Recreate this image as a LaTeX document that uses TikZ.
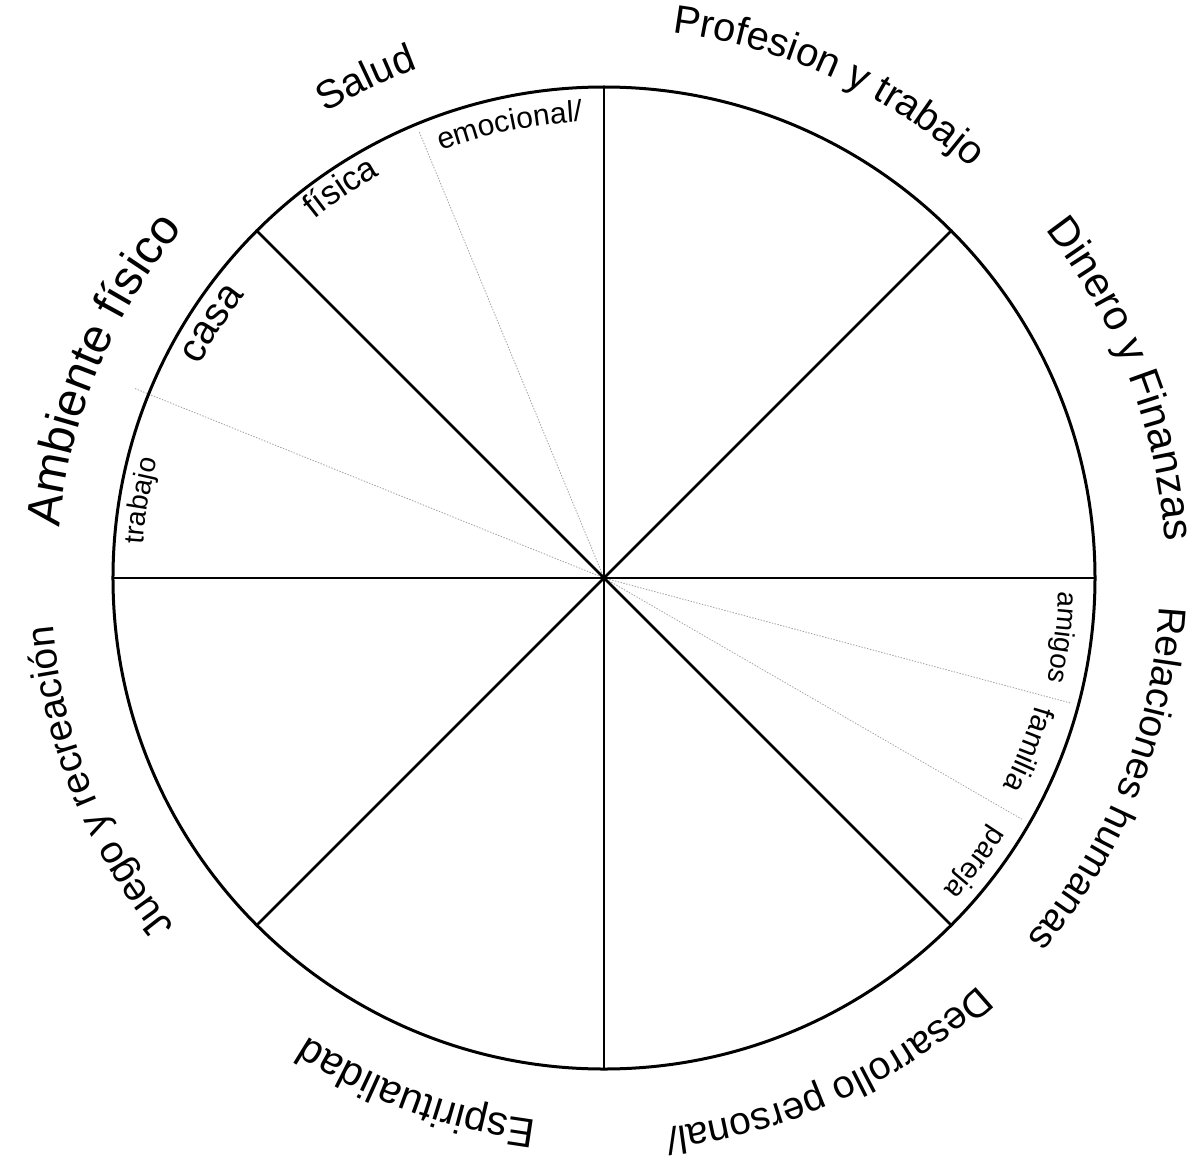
\documentclass[tikz,border=0pt]{standalone}
\usepackage{fontspec}
\setmainfont{Liberation Sans}
\usetikzlibrary{decorations.text}

\tikzset{
  rim/.style={line width=3pt},
  spoke/.style={line width=2.8pt},
  subline/.style={line width=0.9pt,gray!70,dotted},
}
% curved label: centre angle, baseline radius, font size, text
\newcommand{\wheellabel}[4]{%
\path[decorate,decoration={text along path,text align=center,
  text={|\fontsize{#3}{#3}\selectfont|#4}}]
  ({#1+30}:#2) arc[start angle={#1+30},end angle={#1-30},radius=#2];}

\begin{document}
\begin{tikzpicture}[line cap=round,line join=round,x=1pt,y=1pt]
\useasboundingbox (-604,-582) rectangle (597,578);
\coordinate (c) at (0,0);
% sub-areas
\draw[subline] (c) -- (112.5:484);
\draw[subline] (c) -- (158:506);
\draw[subline] (c) -- (-15:484);
\draw[subline] (c) -- (-30:484);
% wheel
\foreach \a in {0,45,...,315}
\draw[spoke] (c) -- (\a:491);
\draw[rim] (c) circle[radius=491];
% areas
\wheellabel{115.5}{542}{40}{Salud}
\wheellabel{65.5}{550}{40}{Profesion y trabajo}
\wheellabel{21}{562}{42}{Dinero y Finanzas}
\wheellabel{-21.7}{556}{39}{Relaciones humanas}
\wheellabel{-65.5}{553}{39}{Desarrollo personal/}
\wheellabel{-110}{546}{41}{Espiritualidad}
\wheellabel{-158}{553}{39}{Juego y recreación}
\wheellabel{157.5}{547}{48}{Ambiente físico}
% sub-area labels
\wheellabel{101.8}{457}{30}{emocional/}
\wheellabel{124}{461}{34}{física}
\wheellabel{147}{457}{40}{casa}
\wheellabel{170.5}{462}{28}{trabajo}
\wheellabel{-7.4}{455}{28}{amigos}
\wheellabel{-22}{450}{30}{familia}
\wheellabel{-37.5}{461}{29}{pareja}
\end{tikzpicture}
\end{document}
